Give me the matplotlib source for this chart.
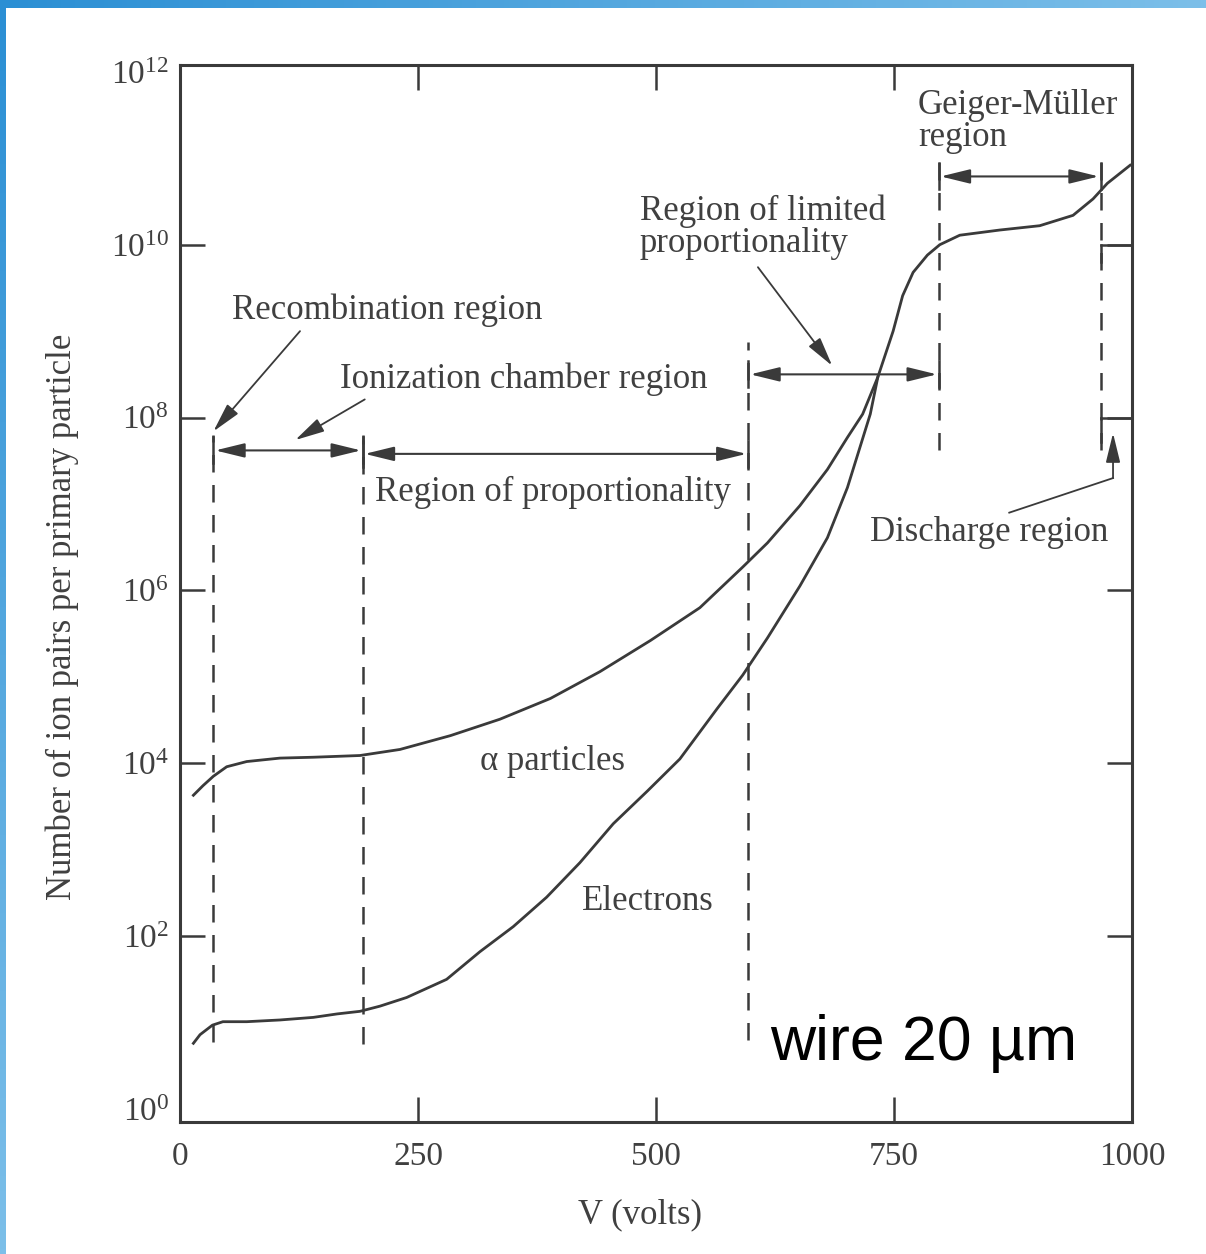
import numpy as np
import matplotlib
matplotlib.use("Agg")
import matplotlib.pyplot as plt
from matplotlib.colors import LinearSegmentedColormap

plt.rcParams["font.family"] = ["Liberation Serif", "DejaVu Serif"]
plt.rcParams["mathtext.fontset"] = "custom"
plt.rcParams["mathtext.rm"] = "Liberation Serif"

INK = "#3a3a3a"
TXT = "#404040"

# curves: voltage (V) and log10(ion pairs per primary particle)
alpha_v = [14, 24, 35, 49, 70, 105, 140, 189, 231, 284, 336, 389, 441, 494, 546, 591,
           617, 651, 680, 701, 717, 733, 749, 759, 770, 785, 798, 819, 861, 903, 938,
           959, 974, 998]
alpha_log = [3.63, 3.74, 3.85, 3.96, 4.02, 4.06, 4.07, 4.09, 4.16, 4.32, 4.51, 4.75,
             5.06, 5.42, 5.80, 6.27, 6.55, 6.98, 7.40, 7.77, 8.04, 8.47, 9.00, 9.41,
             9.68, 9.88, 10.00, 10.11, 10.17, 10.22, 10.34, 10.53, 10.71, 10.92]
elec_v = [14, 21, 34, 45, 70, 105, 140, 165, 189, 210, 238, 280, 315, 350, 385, 420,
          455, 491, 525, 564, 591, 617, 651, 680, 701, 714, 725, 733]
elec_log = [0.76, 0.86, 0.97, 1.01, 1.01, 1.03, 1.06, 1.10, 1.13, 1.19, 1.29, 1.50,
            1.82, 2.11, 2.45, 2.85, 3.30, 3.68, 4.05, 4.63, 5.02, 5.45, 6.05, 6.61,
            7.19, 7.65, 8.04, 8.47]

# region boundaries (dashed lines): voltage, top and bottom in log10
bound_v = [35, 192, 597, 797, 967]
bound_top = [7.80, 7.80, 8.88, 10.96, 10.96]
bound_bot = [0.78, 0.75, 0.80, 7.62, 7.62]

# region arrows: start V, end V, height (log10)
arrow_v0 = [35, 192, 597, 797]
arrow_v1 = [192, 597, 797, 967]
arrow_log = [7.62, 7.58, 8.50, 10.79]

fig = plt.figure(figsize=(12.06, 12.54), dpi=100)
fig.patch.set_facecolor("white")
ax = fig.add_axes([0.1493, 0.1053, 0.7894, 0.8429])

ax.set_yscale("log")
ax.set_xlim(0, 1000)
ax.set_ylim(10 ** -0.15, 10 ** 12.08)
ax.yaxis.set_minor_locator(matplotlib.ticker.NullLocator())
ax.set_yticks([10.0 ** k for k in range(0, 13, 2)])
ax.set_yticklabels([r"$\mathregular{10^{%d}}$" % k for k in range(0, 13, 2)])
ax.set_xticks([0, 250, 500, 750, 1000])
ax.set_xticklabels(["0", "250", "500", "750", "1000"])
ax.tick_params(direction="in", length=18, width=1.8, color=INK, top=True, right=True,
               labelsize=24, labelcolor=TXT)
ax.tick_params(axis="x", pad=14)
ax.tick_params(axis="y", pad=8)
for ticks in (ax.xaxis.get_major_ticks(), ax.yaxis.get_major_ticks()):
    for t in (ticks[0], ticks[-1]):
        t.tick1line.set_visible(False)
        t.tick2line.set_visible(False)
for s in ax.spines.values():
    s.set_linewidth(2.2)
    s.set_color(INK)

# curves
ax.plot(alpha_v, [10 ** y for y in alpha_log], color=INK, lw=2.0)
ax.plot(elec_v, [10 ** y for y in elec_log], color=INK, lw=2.0)

# dashed region boundaries
for v, yt, yb in zip(bound_v, bound_top, bound_bot):
    ax.plot([v, v], [10 ** yb, 10 ** yt], color=INK, lw=1.8, ls=(0, (7, 5)))

# double-headed arrows with end bars
for v0, v1, y in zip(arrow_v0, arrow_v1, arrow_log):
    ax.annotate("", xy=(v1 - 2, 10 ** y), xytext=(v0 + 2, 10 ** y),
                arrowprops=dict(arrowstyle="<|-|>,head_length=0.9,head_width=0.22",
                                color=INK, lw=1.5, shrinkA=0, shrinkB=0, mutation_scale=20))
    for v in (v0, v1):
        ax.plot([v, v], [10 ** (y - 0.15), 10 ** (y + 0.15)], color=INK, lw=1.8)

# discharge-region brackets at the right edge
for y, drop in ((10.0, -0.2), (8.0, -0.28)):
    ax.plot([bound_v[-1], 1000], [10 ** y, 10 ** y], color=INK, lw=1.8)
    ax.plot([bound_v[-1], bound_v[-1]], [10 ** y, 10 ** (y + drop)], color=INK, lw=1.8)

pointer = dict(arrowstyle="-|>,head_length=0.9,head_width=0.22", color=INK, lw=1.3,
               shrinkA=0, shrinkB=0, mutation_scale=20)

# labels
ax.text(55, 10 ** 9.24, "Recombination region", fontsize=25, color=TXT, va="center")
ax.annotate("", xy=(35, 10 ** 7.84), xytext=(126, 10 ** 9.0), arrowprops=pointer)

ax.text(168, 10 ** 8.44, "Ionization chamber region", fontsize=25, color=TXT, va="center")
ax.annotate("", xy=(121, 10 ** 7.74), xytext=(194, 10 ** 8.21), arrowprops=pointer)

ax.text(205, 10 ** 7.13, "Region of proportionality", fontsize=25, color=TXT, va="center")

ax.text(483, 10 ** 10.2, "Region of limited\nproportionality", fontsize=25, color=TXT,
        va="center", linespacing=0.95)
ax.annotate("", xy=(685, 10 ** 8.6), xytext=(607, 10 ** 9.74), arrowprops=pointer)

ax.text(775, 10 ** 11.43, "Geiger-Müller\nregion", fontsize=25, color=TXT,
        va="center", linespacing=0.95)

ax.text(725, 10 ** 6.67, "Discharge region", fontsize=25, color=TXT, va="center")
ax.plot([871, 980], [10 ** 6.9, 10 ** 7.3], color=INK, lw=1.3)
ax.annotate("", xy=(980, 10 ** 7.82), xytext=(980, 10 ** 7.3), arrowprops=pointer)

ax.text(315, 10 ** 4.02, "α particles", fontsize=25, color=TXT, va="center")
ax.text(422, 10 ** 2.4, "Electrons", fontsize=25, color=TXT, va="center")

ax.text(620, 10 ** 0.57, "wire 20 µm", fontsize=45, color="black", va="baseline",
        family=["Liberation Sans", "DejaVu Sans"])

fig.text(0.052, 0.508, "Number of ion pairs per primary particle", rotation=90,
         fontsize=25, color=TXT, ha="center", va="center")
fig.text(0.531, 0.031, "V (volts)", fontsize=25, color=TXT, ha="center", va="center")

# slide frame: blue gradient bars on top and left
blues = LinearSegmentedColormap.from_list("frame", ["#2b8fd4", "#7cbfe9"])
top = fig.add_axes([0, 1 - 8 / 1254, 1, 8 / 1254])
top.imshow(np.linspace(0, 1, 256)[None, :], cmap=blues, aspect="auto")
top.axis("off")
left = fig.add_axes([0, 0, 6 / 1206, 1 - 8 / 1254])
left.imshow(np.linspace(0, 1, 256)[:, None], cmap=blues, aspect="auto")
left.axis("off")

fig.savefig("out.png", dpi=100)
